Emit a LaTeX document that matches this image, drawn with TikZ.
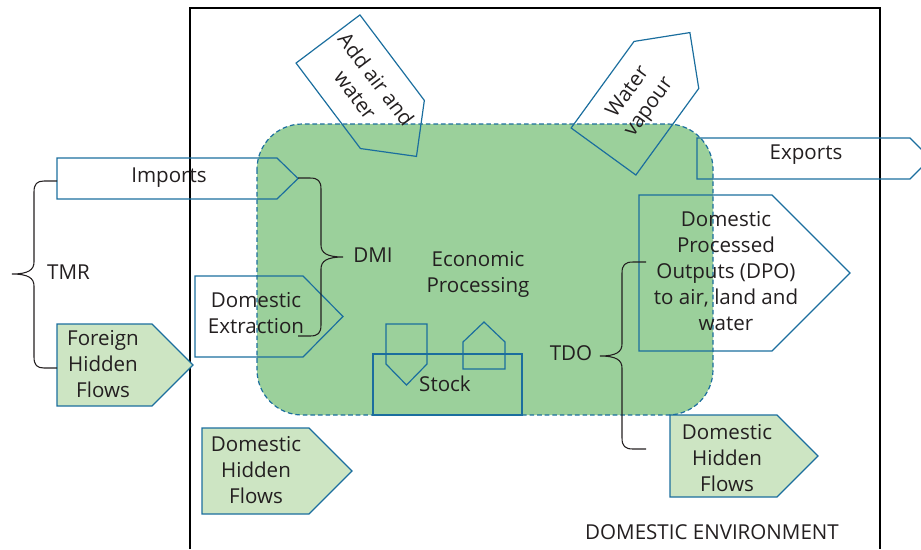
\documentclass[tikz,border=0pt]{standalone}
\usepackage{fontspec}
\setmainfont{Open Sans}

\definecolor{flowblue}{RGB}{27,110,158}
\definecolor{procgreen}{RGB}{155,208,155}
\definecolor{hiddengreen}{RGB}{205,229,195}
\definecolor{textgray}{RGB}{35,31,32}

\begin{document}
\begin{tikzpicture}[x=0.0265cm, y=-0.0265cm, line width=1pt,
        flow/.style={draw=flowblue, line width=0.9pt},
        hidden/.style={flow, fill=hiddengreen},
        label/.style={text=textgray, align=center, inner sep=0pt,
            font=\fontsize{15.5}{19.5}\selectfont},
        curly/.style={draw=textgray, line width=0.8pt}]
            \useasboundingbox (0,0) rectangle (921,549);

            % draw domestic environment border
            \draw[color=black] (190,549) -- (190,8) -- (880,8) -- (880,549);
            \node[label] (env) at (712,532) {DOMESTIC ENVIRONMENT};

            % draw economic processing area
            \filldraw[fill=procgreen, draw=flowblue, line width=0.9pt,
                      dash pattern=on 3.5pt off 2.2pt, rounded corners=1.2cm]
            (257,124) rectangle (713,415);
            \node[label] (proc) at (478,274) {Economic\\Processing};

            % draw inputs
            \draw[flow] (57,158) -- (277,158) -- (298,178.5) -- (277,199) -- (57,199) -- cycle;
            \node[label] (imports) at (169,178) {Imports};

            \draw[flow] (195,276) -- (303,276) -- (343,316.5) -- (303,357) -- (195,357) -- cycle;
            \node[label] (extraction) at (256,313) {Domestic\\Extraction};

            \filldraw[hidden] (57,324) -- (152,324) -- (193,365) -- (152,406) -- (57,406) -- cycle;
            \node[label] (foreign) at (103,364) {Foreign\\Hidden\\Flows};

            \filldraw[hidden] (202,428) -- (309,428) -- (352,471) -- (309,514) -- (202,514) -- cycle;
            \node[label] (dhfin) at (256,470) {Domestic\\Hidden\\Flows};

            % draw outputs
            \draw[flow] (697,138) -- (910,138) -- (930.5,158.5) -- (910,179) -- (697,179) -- cycle;
            \node[label] (exports) at (806,155) {Exports};

            \draw[flow] (639,195) -- (772,195) -- (850,273) -- (772,351) -- (639,351) -- cycle;
            \node[label] (dpo) at (726,271) {Domestic\\Processed\\Outputs (DPO)\\to air, land and\\water};

            \filldraw[hidden] (670,415) -- (777,415) -- (818,456) -- (777,497) -- (670,497) -- cycle;
            \node[label] (dhfout) at (727,458) {Domestic\\Hidden\\Flows};

            % draw tilted air and water flows
            \begin{scope}[shift={(328,39)}, rotate=-53]
                \draw[flow] (0,-40) -- (107,-40) -- (147,0) -- (107,40) -- (0,40) -- cycle;
            \end{scope}
            \node[label, rotate=-53] (air) at (366,87) {Add air and\\water};

            \begin{scope}[shift={(603.5,151.5)}, rotate=54]
                \draw[flow] (0,-40) -- (107,-40) -- (147,0) -- (107,40) -- (0,40) -- cycle;
            \end{scope}
            \node[label, rotate=54] (vapour) at (639,100) {Water\\vapour};

            % draw stock with its flows
            \draw[flow] (373,354) rectangle (522,415);
            \draw[flow] (386,324) -- (427,324) -- (427,364) -- (406.5,385) -- (386,364) -- cycle;
            \draw[flow] (463,369) -- (463,342) -- (484,322) -- (505,342) -- (505,369) -- cycle;
            \node[label] (stock) at (445,384) {Stock};

            % draw braces
            \coordinate (imptail) at (57,181);
            \coordinate (foreigntail) at (57,368);
            \coordinate (imptip) at (298,178);
            \coordinate (extractend) at (298,336);
            \coordinate (dpoend) at (646,262);
            \coordinate (dhfend) at (646,449);
            \draw[curly] (imptail) -- (44,181) .. controls (37,181) and (34,184) .. (34,192)
                -- (34,262) .. controls (34,270) and (28,274) .. (12,274)
                .. controls (28,274) and (34,278) .. (34,286)
                -- (34,357) .. controls (34,365) and (37,368) .. (44,368) -- (foreigntail);
            \draw[curly] (imptip) -- (310,178) .. controls (318,178) and (321,181) .. (321,189)
                -- (321,245) .. controls (321,253) and (327,257) .. (343,257)
                .. controls (327,257) and (321,261) .. (321,269)
                -- (321,325) .. controls (321,333) and (318,336) .. (310,336) -- (extractend);
            \draw[curly] (dpoend) -- (633,262) .. controls (625,262) and (622,265) .. (622,273)
                -- (622,344) .. controls (622,352) and (616,356) .. (600,356)
                .. controls (616,356) and (622,360) .. (622,368)
                -- (622,438) .. controls (622,446) and (625,449) .. (633,449) -- (dhfend);
            \node[label] (tmr) at (68.5,272) {TMR};
            \node[label] (dmi) at (373,255) {DMI};
            \node[label] (tdo) at (571,353) {TDO};
        \end{tikzpicture}
\end{document}
